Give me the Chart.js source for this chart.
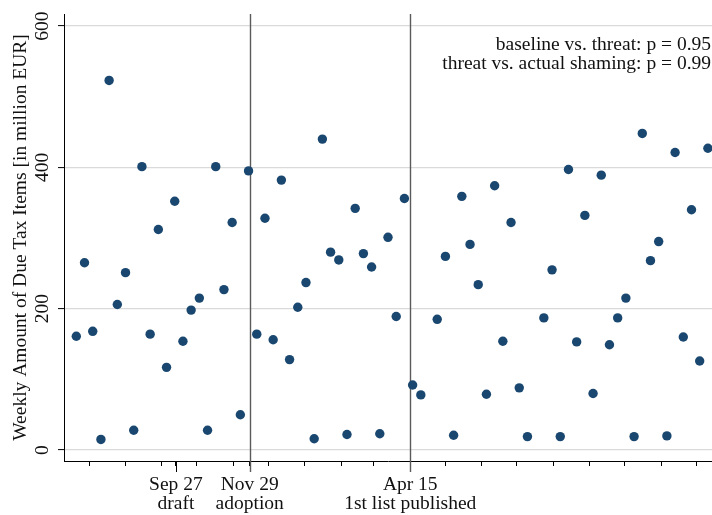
<!DOCTYPE html>
<html>
<head>
<meta charset="utf-8">
<script src="https://cdn.jsdelivr.net/npm/chart.js@4.4.0/dist/chart.umd.min.js"></script>
<style>
  html, body { margin: 0; padding: 0; background: #fff; }
  canvas { display: block; }
</style>
</head>
<body>
<canvas id="taxChart" width="712" height="515"></canvas>
<script>
  // weekly amounts of due tax items (million EUR), one per week; null = no observation
  const weeklyAmounts = [
    161, 265, 168, 15, 523, 206, 251, 28, 401, 164,
    312, 117, 352, 154, 198, 215, 28, 401, 227, 322,
    50, 395, 164, 328, 156, 382, 128, 202, 237, 16,
    440, 280, 269, 22, 342, 278, 259, 23, 301, 189,
    356, 92, 78, null, 185, 274, 21, 359, 291, 234,
    79, 374, 154, 322, 88, 19, null, 187, 255, 19,
    397, 153, 332, 80, 389, 149, 187, 215, 19, 448,
    268, 295, 20, 421, 160, 340, 126, 427
  ];
  const daysPerWeek = 7;

  // x axis is in days since the first week
  const monthTicks = [11, 42, 73, 103, 134, 164, 195, 226, 254, 315, 346, 376, 407, 438, 468, 499, 529];
  const eventDays = [85, 148, 285];
  const eventLabels = [['Sep 27', 'draft'], ['Nov 29', 'adoption'], ['Apr 15', '1st list published']];
  const eventHasLine = [false, true, true];
  const xRange = [-10.5, 542.5];

  const yTicks = [0, 200, 400, 600];
  const yRange = [-15.5, 617];
  const yTitle = 'Weekly Amount of Due Tax Items [in million EUR]';
  const pValueNotes = ['baseline vs. threat: p = 0.95', 'threat vs. actual shaming: p = 0.99'];

  const FONT = 'Liberation Serif';
  const FONT_SIZE = 19.5;
  const dotColor = '#1a476f';

  const points = [];
  weeklyAmounts.forEach((v, i) => {
    if (v !== null) points.push({ x: i * daysPerWeek, y: v });
  });

  // event lines and long ticks
  const eventLinePlugin = {
    id: 'eventLines',
    beforeDatasetsDraw(chart) {
      const { ctx, chartArea, scales } = chart;
      const x = scales.x;
      ctx.save();
      eventDays.forEach((d, i) => {
        const px = Math.round(x.getPixelForValue(d)) + 0.5;
        ctx.beginPath();
        if (eventHasLine[i]) {
          ctx.strokeStyle = '#5a5a5a';
          ctx.lineWidth = 1.4;
          ctx.moveTo(px, chartArea.top);
        } else {
          ctx.strokeStyle = '#000';
          ctx.lineWidth = 1;
          ctx.moveTo(px, chartArea.bottom);
        }
        ctx.lineTo(px, chartArea.bottom + 11);
        ctx.stroke();
      });
      ctx.restore();
    },
    afterDraw(chart) {
      const { ctx, chartArea } = chart;
      ctx.save();
      ctx.font = FONT_SIZE + 'px "' + FONT + '"';
      ctx.fillStyle = '#111';
      ctx.textAlign = 'right';
      ctx.textBaseline = 'middle';
      pValueNotes.forEach((t, i) => {
        ctx.fillText(t, chartArea.right - 1, 45 + i * 19);
      });
      ctx.restore();
    }
  };

  const allXTicks = monthTicks.concat(eventDays).sort((a, b) => a - b);

  new Chart(document.getElementById('taxChart'), {
    type: 'scatter',
    data: {
      datasets: [{
        data: points,
        backgroundColor: dotColor,
        borderColor: dotColor,
        borderWidth: 0,
        pointRadius: 4.7,
        pointHoverRadius: 4.7
      }]
    },
    options: {
      responsive: false,
      animation: false,
      events: [],
      layout: { autoPadding: false, padding: { top: 14, right: 0, bottom: 0, left: 0 } },
      plugins: {
        legend: { display: false },
        tooltip: { enabled: false }
      },
      scales: {
        x: {
          type: 'linear',
          min: xRange[0],
          max: xRange[1],
          afterBuildTicks: scale => {
            scale.ticks = allXTicks.map(v => ({ value: v }));
          },
          afterFit: scale => { scale.height = 54; },
          border: { display: true, color: '#000', width: 1 },
          grid: {
            display: true,
            drawOnChartArea: false,
            drawTicks: true,
            tickLength: 5,
            tickColor: '#000',
            tickWidth: 1
          },
          ticks: {
            autoSkip: false,
            maxRotation: 0,
            minRotation: 0,
            padding: 9,
            color: '#111',
            font: { family: FONT, size: FONT_SIZE, lineHeight: '19px' },
            callback: value => {
              const k = eventDays.indexOf(value);
              return k >= 0 ? eventLabels[k] : '';
            }
          }
        },
        y: {
          min: yRange[0],
          max: yRange[1],
          afterBuildTicks: scale => {
            scale.ticks = yTicks.map(v => ({ value: v }));
          },
          afterFit: scale => { scale.width = 64; },
          border: { display: true, color: '#000', width: 1 },
          grid: {
            color: '#dadada',
            lineWidth: 1.2,
            tickLength: 6,
            tickColor: '#000',
            tickWidth: 1
          },
          ticks: {
            minRotation: 90,
            maxRotation: 90,
            crossAlign: 'center',
            padding: 1,
            color: '#111',
            font: { family: FONT, size: FONT_SIZE }
          },
          title: {
            display: true,
            text: yTitle,
            color: '#111',
            font: { family: FONT, size: FONT_SIZE },
            padding: { top: 9, bottom: 0 }
          }
        }
      }
    },
    plugins: [eventLinePlugin]
  });
</script>
</body>
</html>
